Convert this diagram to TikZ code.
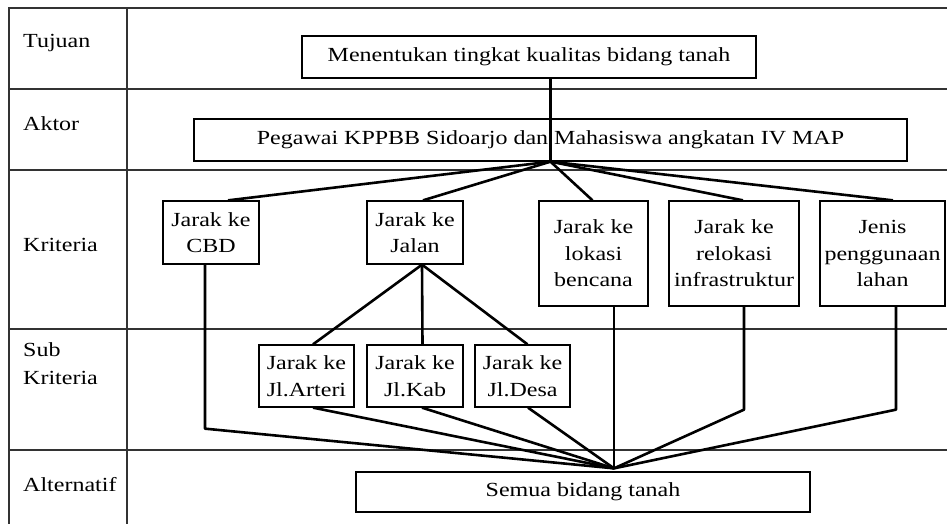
\documentclass[tikz,border=0pt]{standalone}
\usepackage{fontspec}
\setmainfont[FakeStretch=1.2]{Liberation Serif}
\usetikzlibrary{calc}
\begin{document}
\begin{tikzpicture}[x=1pt,y=-1pt,
  grid/.style={line width=1.1pt, draw=black!80},
  box/.style={draw, line width=1.3pt, inner sep=1pt, align=center, font=\fontsize{20}{26.5}\selectfont},
  lbl/.style={anchor=base west, inner sep=0pt, align=left, font=\fontsize{20}{28}\selectfont},
  conn/.style={line width=2.6pt, line join=round}]
\useasboundingbox (0,0) rectangle (947,524);
% table grid
\draw[grid] (9,524) -- (9,8) -- (947,8);
\draw[grid] (127,8) -- (127,524);
\draw[grid] (9,89) -- (947,89);
\draw[grid] (9,170) -- (947,170);
\draw[grid] (9,329) -- (947,329);
\draw[grid] (9,450) -- (947,450);
% row labels
\node[lbl] (lt) at (23,48) {Tujuan};
\node[lbl] (la) at (23,131) {Aktor};
\node[lbl] (lk) at (23,251) {Kriteria};
\node[lbl] (ls) at (23,384) {Sub\\Kriteria};
\node[lbl] (lal) at (23,491) {Alternatif};
% boxes
\node[box, minimum width=454pt, minimum height=42pt] (tujuan) at (529,57) {Menentukan tingkat kualitas bidang tanah};
\node[box, minimum width=713pt, minimum height=42pt] (aktor) at (550.5,140) {Pegawai KPPBB Sidoarjo dan Mahasiswa angkatan IV MAP};
\node[box, minimum width=96pt, minimum height=63pt] (cbd) at (211,232.5) {Jarak ke\\CBD};
\node[box, minimum width=96pt, minimum height=63pt] (jalan) at (415,232.5) {Jarak ke\\Jalan};
\node[box, minimum width=109pt, minimum height=105pt] (bencana) at (593.5,253.5) {Jarak ke\\lokasi\\bencana};
\node[box, minimum width=130pt, minimum height=105pt] (relokasi) at (734,253.5) {Jarak ke\\relokasi\\infrastruktur};
\node[box, minimum width=125pt, minimum height=105pt] (jenis) at (882.5,253.5) {Jenis\\penggunaan\\lahan};
\node[box, minimum width=95pt, minimum height=62pt] (arteri) at (306.5,376) {Jarak ke\\Jl.Arteri};
\node[box, minimum width=96pt, minimum height=62pt] (kab) at (415,376) {Jarak ke\\Jl.Kab};
\node[box, minimum width=95pt, minimum height=62pt] (desa) at (522.5,376) {Jarak ke\\Jl.Desa};
\node[box, minimum width=454pt, minimum height=40pt] (alt) at (583,492) {Semua bidang tanah};
\coordinate (conv) at ([xshift=31pt,yshift=3pt]alt.north);
% connectors
\draw[conn] (tujuan.south -| aktor.south) -- (aktor.south);
\draw[conn] (aktor.south) -- ([xshift=17pt]cbd.north);
\draw[conn] (aktor.south) -- ([xshift=8pt]jalan.north);
\draw[conn] (aktor.south) -- ([xshift=-1pt]bencana.north);
\draw[conn] (aktor.south) -- ([xshift=9pt]relokasi.north);
\draw[conn] (aktor.south) -- ([xshift=10.5pt]jenis.north);
\draw[conn] ([xshift=7pt]jalan.south) -- ([xshift=6.5pt]arteri.north);
\draw[conn] ([xshift=7pt]jalan.south) -- ([xshift=7.5pt]kab.north);
\draw[conn] ([xshift=7pt]jalan.south) -- ([xshift=5pt]desa.north);
\draw[conn] ([xshift=-6pt]cbd.south) -- ++(0,164) -- (conv);
\draw[conn] ([xshift=6.5pt]arteri.south) -- (conv);
\draw[conn] ([xshift=7pt]kab.south) -- (conv);
\draw[conn] ([xshift=5.5pt]desa.south) -- (conv);
\draw[conn] ([xshift=20.5pt]bencana.south) -- (conv);
\draw[conn] ([xshift=10pt]relokasi.south) -- ++(0,103) -- (conv);
\draw[conn] ([xshift=13.5pt]jenis.south) -- ++(0,103) -- (conv);
\end{tikzpicture}
\end{document}
